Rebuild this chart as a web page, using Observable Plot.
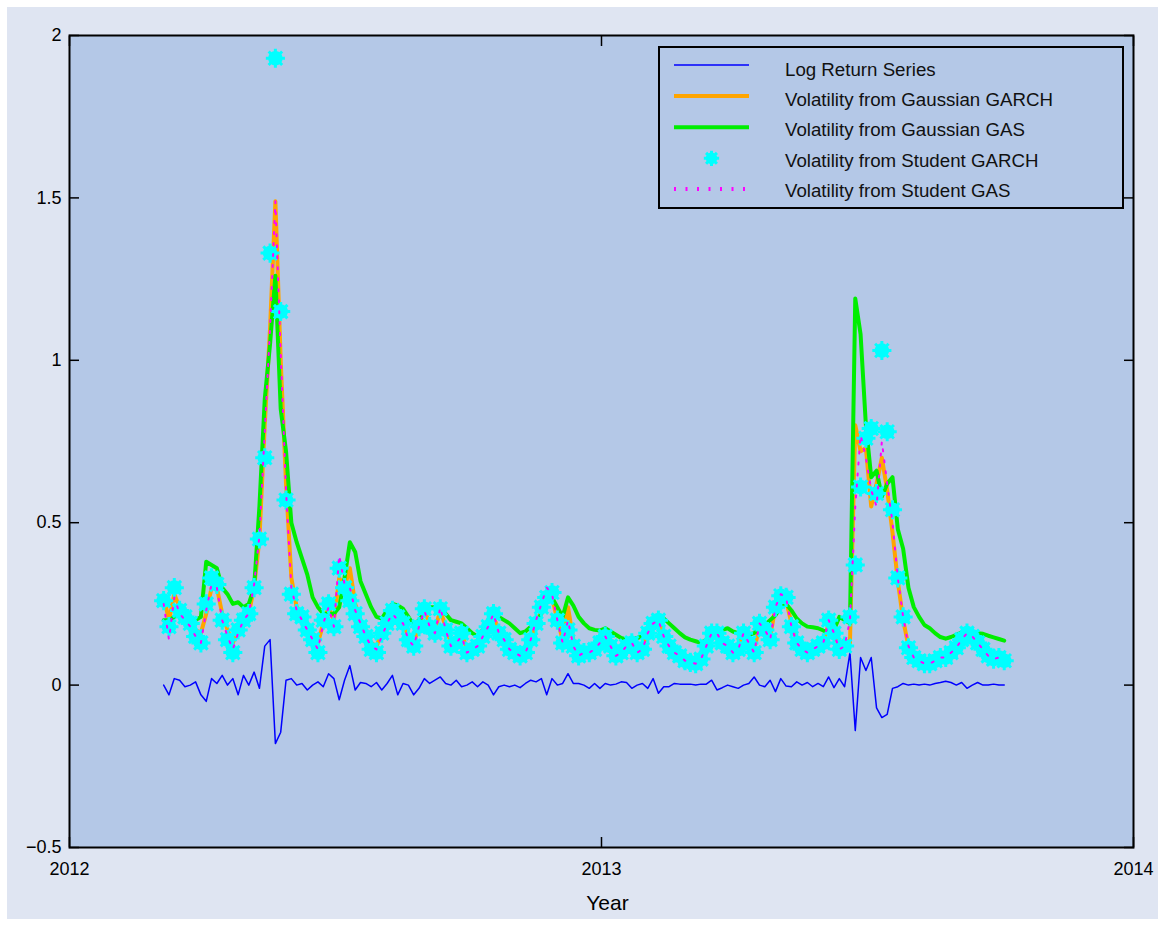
<!DOCTYPE html>
<html>
<head>
<meta charset="utf-8">
<script src="https://cdn.jsdelivr.net/npm/d3@7"></script>
<script src="https://cdn.jsdelivr.net/npm/@observablehq/plot@0.6"></script>
<style>
  html, body { margin: 0; padding: 0; background: #ffffff; }
  #fig { position: absolute; left: 7px; top: 7px; width: 1151px; height: 912px; background: #dfe5f2; }
  #chart { position: absolute; left: 0; top: 0; }
</style>
</head>
<body>
<div id="fig"></div>
<div id="chart"></div>
<script>
// ---- time grid (years) ----
const startYear = 2012.177;
const stepYear = 0.01;

// ---- series ----
const logReturn = [
  0.0, -0.03, 0.02, 0.015, -0.005, 0.0, 0.01, -0.03, -0.05, 0.02, 0.005, 0.03, 0.0, 0.02, -0.03, 0.03, 0.0, 0.04, -0.01, 0.12, 0.14, -0.18, -0.145, 0.015, 0.02, 0.0, 0.005, -0.015, 0.0, 0.01, -0.005, 0.035, 0.02, -0.045, 0.015,
  0.06, -0.015, 0.008, 0.005, -0.005, 0.008, -0.015, 0.005, 0.03, -0.03, 0.005, 0.0, -0.03, -0.01, 0.02, 0.005, 0.015, 0.025, 0.005, 0.0, 0.015, -0.005, 0.0, 0.01, -0.005, 0.01, 0.0, -0.03, -0.005, 0.0, -0.005, 0.0, -0.008, 0.005, 0.015, 0.01,
  0.02, -0.03, 0.02, 0.0, 0.005, 0.035, 0.005, 0.005, 0.0, -0.01, 0.005, -0.01, 0.005, 0.0, 0.003, 0.01, 0.008, -0.01, 0.0, 0.005, -0.01, 0.02, -0.025, -0.005, -0.005, 0.005, 0.003, 0.003, 0.003, 0.0, 0.003, 0.003, 0.015, -0.015, -0.008, 0.0,
  -0.005, -0.01, 0.0, 0.005, 0.025, 0.0, -0.005, 0.015, -0.02, 0.02, -0.003, -0.005, 0.01, 0.0, 0.008, -0.005, 0.005, -0.005, 0.025, -0.008, 0.02, -0.005, 0.1, -0.14, 0.085, 0.045, 0.085, -0.07, -0.1, -0.09, -0.01, -0.005, 0.005, 0.0,
  0.003, 0.0, 0.003, 0.0, 0.005, 0.008, 0.012, 0.008, 0.0, 0.008, -0.01, 0.0, 0.008, 0.0, 0.0, 0.003, 0.0, 0.0
];

const gaussGarch = [
  0.27, 0.2, 0.28, 0.24, 0.22, 0.2, 0.17, 0.16, 0.22, 0.3, 0.3, 0.22, 0.17, 0.13, 0.17, 0.2, 0.22, 0.3, 0.45, 0.8, 1.1, 1.49, 1.0, 0.62, 0.33, 0.24, 0.22, 0.19, 0.16, 0.13, 0.19, 0.24, 0.2, 0.33, 0.3,
  0.36, 0.25, 0.2, 0.17, 0.13, 0.12, 0.16, 0.19, 0.22, 0.21, 0.19, 0.15, 0.13, 0.18, 0.23, 0.19, 0.17, 0.23, 0.18, 0.13, 0.14, 0.16, 0.11, 0.12, 0.13, 0.15, 0.18, 0.21, 0.17, 0.15, 0.12, 0.11, 0.1, 0.11, 0.14, 0.19,
  0.23, 0.26, 0.27, 0.2, 0.14, 0.24, 0.14, 0.1, 0.11, 0.11, 0.12, 0.13, 0.15, 0.12, 0.1, 0.11, 0.12, 0.13, 0.11, 0.12, 0.16, 0.19, 0.2, 0.16, 0.13, 0.11, 0.1, 0.085, 0.08, 0.075, 0.09, 0.12, 0.16, 0.16, 0.14, 0.12,
  0.11, 0.12, 0.16, 0.13, 0.11, 0.18, 0.17, 0.15, 0.24, 0.28, 0.26, 0.19, 0.14, 0.12, 0.11, 0.12, 0.12, 0.13, 0.19, 0.16, 0.12, 0.14, 0.13, 0.8, 0.72, 0.73, 0.55, 0.62, 0.7, 0.6, 0.47, 0.32, 0.2, 0.12,
  0.09, 0.08, 0.075, 0.075, 0.08, 0.09, 0.09, 0.1, 0.12, 0.14, 0.16, 0.15, 0.13, 0.11, 0.1, 0.09, 0.09, 0.08
];

const gaussGas = [
  0.2, 0.2, 0.21, 0.22, 0.21, 0.21, 0.2, 0.21, 0.38, 0.37, 0.36, 0.3, 0.28, 0.25, 0.255, 0.24, 0.25, 0.3, 0.55, 0.88, 1.05, 1.26, 0.85, 0.72, 0.5, 0.44, 0.39, 0.34, 0.27, 0.24, 0.22, 0.22, 0.22, 0.24, 0.33,
  0.44, 0.41, 0.32, 0.28, 0.24, 0.21, 0.205, 0.23, 0.25, 0.245, 0.235, 0.21, 0.185, 0.2, 0.22, 0.24, 0.24, 0.235, 0.22, 0.2, 0.195, 0.19, 0.175, 0.16, 0.15, 0.17, 0.2, 0.225, 0.21, 0.2, 0.19, 0.175, 0.16, 0.165, 0.18, 0.19,
  0.22, 0.26, 0.27, 0.24, 0.21, 0.27, 0.245, 0.21, 0.19, 0.175, 0.17, 0.168, 0.175, 0.165, 0.155, 0.145, 0.14, 0.14, 0.145, 0.15, 0.16, 0.18, 0.2, 0.205, 0.19, 0.175, 0.16, 0.147, 0.14, 0.135, 0.13, 0.14, 0.16, 0.165, 0.17, 0.175,
  0.165, 0.16, 0.16, 0.155, 0.16, 0.175, 0.185, 0.2, 0.215, 0.24, 0.25, 0.23, 0.205, 0.19, 0.18, 0.178, 0.175, 0.168, 0.162, 0.17, 0.21, 0.2, 0.19, 1.19, 1.08, 0.8, 0.64, 0.66, 0.58, 0.62, 0.64, 0.48, 0.42, 0.3,
  0.24, 0.21, 0.185, 0.175, 0.16, 0.148, 0.143, 0.148, 0.155, 0.162, 0.168, 0.165, 0.16, 0.158, 0.152, 0.147, 0.142, 0.137
];

const studentGarch = [
  0.26, 0.18, 0.3, 0.23, 0.21, 0.19, 0.15, 0.13, 0.25, 0.33, 0.31, 0.2, 0.14, 0.1, 0.17, 0.2, 0.22, 0.3, 0.45, 0.7, 1.33, 1.93, 1.15, 0.57, 0.28, 0.22, 0.21, 0.17, 0.14, 0.1, 0.2, 0.25, 0.18, 0.36, 0.3,
  0.26, 0.22, 0.18, 0.15, 0.11, 0.1, 0.16, 0.19, 0.23, 0.21, 0.19, 0.14, 0.12, 0.18, 0.235, 0.18, 0.16, 0.235, 0.17, 0.12, 0.13, 0.16, 0.1, 0.11, 0.12, 0.15, 0.18, 0.22, 0.16, 0.14, 0.11, 0.1, 0.09, 0.1, 0.14, 0.19,
  0.24, 0.27, 0.285, 0.2, 0.13, 0.17, 0.12, 0.09, 0.1, 0.1, 0.11, 0.13, 0.15, 0.12, 0.09, 0.1, 0.12, 0.13, 0.1, 0.11, 0.16, 0.19, 0.2, 0.15, 0.12, 0.1, 0.09, 0.075, 0.07, 0.066, 0.08, 0.12, 0.16, 0.16, 0.13, 0.12,
  0.1, 0.11, 0.16, 0.13, 0.1, 0.19, 0.17, 0.14, 0.24, 0.275, 0.27, 0.18, 0.13, 0.11, 0.1, 0.11, 0.12, 0.13, 0.2, 0.16, 0.11, 0.12, 0.21, 0.37, 0.61, 0.76, 0.79, 0.59, 1.03, 0.78, 0.54, 0.33, 0.21, 0.115,
  0.085, 0.075, 0.066, 0.066, 0.075, 0.085, 0.085, 0.1, 0.115, 0.14, 0.16, 0.15, 0.13, 0.11, 0.09, 0.08, 0.085, 0.075
];

const studentGas = [
  0.25, 0.14, 0.27, 0.22, 0.2, 0.18, 0.15, 0.13, 0.23, 0.31, 0.3, 0.2, 0.15, 0.11, 0.16, 0.2, 0.22, 0.31, 0.46, 0.78, 1.1, 1.49, 1.02, 0.6, 0.3, 0.23, 0.2, 0.17, 0.14, 0.11, 0.19, 0.24, 0.18, 0.4, 0.31,
  0.3, 0.23, 0.19, 0.15, 0.12, 0.11, 0.15, 0.19, 0.22, 0.2, 0.19, 0.14, 0.12, 0.18, 0.23, 0.18, 0.16, 0.24, 0.17, 0.12, 0.13, 0.15, 0.1, 0.11, 0.12, 0.15, 0.18, 0.22, 0.16, 0.14, 0.11, 0.1, 0.09, 0.1, 0.14, 0.2,
  0.25, 0.3, 0.28, 0.2, 0.13, 0.2, 0.12, 0.09, 0.1, 0.1, 0.11, 0.13, 0.15, 0.12, 0.09, 0.1, 0.12, 0.13, 0.1, 0.11, 0.16, 0.19, 0.2, 0.15, 0.12, 0.1, 0.09, 0.075, 0.07, 0.066, 0.08, 0.12, 0.16, 0.16, 0.13, 0.12,
  0.1, 0.11, 0.16, 0.13, 0.1, 0.19, 0.17, 0.14, 0.24, 0.28, 0.27, 0.18, 0.13, 0.11, 0.1, 0.11, 0.12, 0.13, 0.2, 0.16, 0.11, 0.12, 0.2, 0.55, 0.77, 0.7, 0.6, 0.55, 0.75, 0.62, 0.5, 0.33, 0.21, 0.12,
  0.085, 0.075, 0.066, 0.066, 0.075, 0.085, 0.085, 0.1, 0.115, 0.14, 0.16, 0.15, 0.13, 0.11, 0.09, 0.08, 0.085, 0.075
];

const yTicks = [-0.5, 0, 0.5, 1, 1.5, 2];
const xTicks = [2012, 2013, 2014];
const legendLabels = [
  "Log Return Series",
  "Volatility from Gaussian GARCH",
  "Volatility from Gaussian GAS",
  "Volatility from Student GARCH",
  "Volatility from Student GAS"
];

// ---- build table ----
const rows = logReturn.map((r, i) => ({
  x: startYear + i * stepYear,
  r,
  gg: gaussGarch[i],
  gs: gaussGas[i],
  sg: studentGarch[i],
  ss: studentGas[i]
}));

const FONT = "'Liberation Sans', Arial, Helvetica, sans-serif";
const plotBg = "#b4c8e7";
const cyan = "#00ffff";
const fmtY = d => (d < 0 ? "\u2212" + Math.abs(d) : String(d));

const svg = Plot.plot({
  width: 1165,
  height: 926,
  marginLeft: 69,
  marginRight: 32,
  marginTop: 35,
  marginBottom: 79,
  style: { background: "transparent", fontFamily: FONT, fontSize: "18px", color: "#000", overflow: "visible" },
  x: { domain: [2012, 2014] },
  y: { domain: [-0.5, 2] },
  marks: [
    Plot.frame({ fill: plotBg }),
    Plot.line(rows, { x: "x", y: "r", stroke: "#0000ff", strokeWidth: 1.5 }),
    Plot.line(rows, { x: "x", y: "gg", stroke: "#ffa500", strokeWidth: 4 }),
    Plot.line(rows, { x: "x", y: "gs", stroke: "#00ee00", strokeWidth: 4 }),
    Plot.dot(rows, { x: "x", y: "sg", r: 7.3, fill: cyan, stroke: null }),
    Plot.dot(rows, { x: "x", y: "sg", r: 6.2, symbol: "plus", stroke: cyan, strokeWidth: 3 }),
    Plot.dot(rows, { x: "x", y: "sg", r: 6.2, symbol: "times", stroke: cyan, strokeWidth: 3 }),
    Plot.line(rows, { x: "x", y: "ss", stroke: "#ff00ff", strokeWidth: 2, strokeDasharray: "2,9" }),
    Plot.frame({ stroke: "#000", strokeWidth: 2 }),
    Plot.axisY({ anchor: "left", ticks: yTicks, tickSize: 0, tickPadding: 8, tickFormat: fmtY, fontSize: 18, label: null }),
    Plot.axisY({ anchor: "left", ticks: yTicks, tickSize: -10, tickFormat: () => "", label: null, strokeWidth: 1.5 }),
    Plot.axisY({ anchor: "right", ticks: yTicks, tickSize: -10, tickFormat: () => "", label: null, strokeWidth: 1.5 }),
    Plot.axisX({ anchor: "bottom", ticks: xTicks, tickSize: 0, tickPadding: 15, tickFormat: d => String(d), fontSize: 18, label: null }),
    Plot.axisX({ anchor: "bottom", ticks: xTicks, tickSize: -10, tickFormat: () => "", label: null, strokeWidth: 1.5 }),
    Plot.axisX({ anchor: "top", ticks: xTicks, tickSize: -10, tickFormat: () => "", label: null, strokeWidth: 1.5 }),
    Plot.text(["Year"], { frameAnchor: "bottom", dy: 62, dx: 6, fontSize: 21, fill: "#000" })
  ]
});

// ---- legend (inside the axes, top right) ----
const lg = d3.select(svg).append("g").attr("font-family", FONT).attr("text-anchor", "start");
lg.append("rect")
  .attr("x", 659).attr("y", 47).attr("width", 464).attr("height", 161)
  .attr("fill", plotBg).attr("stroke", "#000").attr("stroke-width", 2);
const lineY = [65, 96, 127.3, 158.3, 189];
const textY = [75.5, 105.5, 136, 166.7, 197.3];
const x0 = 674, x1 = 749;
lg.append("line").attr("x1", x0).attr("x2", x1).attr("y1", lineY[0]).attr("y2", lineY[0])
  .attr("stroke", "#0000ff").attr("stroke-width", 1.3);
lg.append("line").attr("x1", x0).attr("x2", x1).attr("y1", lineY[1]).attr("y2", lineY[1])
  .attr("stroke", "#ffa500").attr("stroke-width", 4);
lg.append("line").attr("x1", x0).attr("x2", x1).attr("y1", lineY[2]).attr("y2", lineY[2])
  .attr("stroke", "#00ee00").attr("stroke-width", 4);
const mx = (x0 + x1) / 2, my = lineY[3];
lg.append("circle").attr("cx", mx).attr("cy", my).attr("r", 5.8).attr("fill", cyan);
lg.append("path").attr("transform", `translate(${mx},${my})`)
  .attr("d", d3.symbol(d3.symbolPlus, Math.PI * 5 * 5)())
  .attr("fill", "none").attr("stroke", cyan).attr("stroke-width", 3);
lg.append("path").attr("transform", `translate(${mx},${my})`)
  .attr("d", d3.symbol(d3.symbolTimes, Math.PI * 5 * 5)())
  .attr("fill", "none").attr("stroke", cyan).attr("stroke-width", 3);
lg.append("line").attr("x1", x0).attr("x2", x1 - 4).attr("y1", lineY[4]).attr("y2", lineY[4])
  .attr("stroke", "#ff00ff").attr("stroke-width", 4).attr("stroke-dasharray", "2,9.5");
legendLabels.forEach((t, i) => {
  lg.append("text").attr("x", 785).attr("y", textY[i])
    .attr("text-anchor", "start")
    .attr("font-size", 18.7).attr("fill", "#111").text(t);
});

document.getElementById("chart").appendChild(svg);
</script>
</body>
</html>
